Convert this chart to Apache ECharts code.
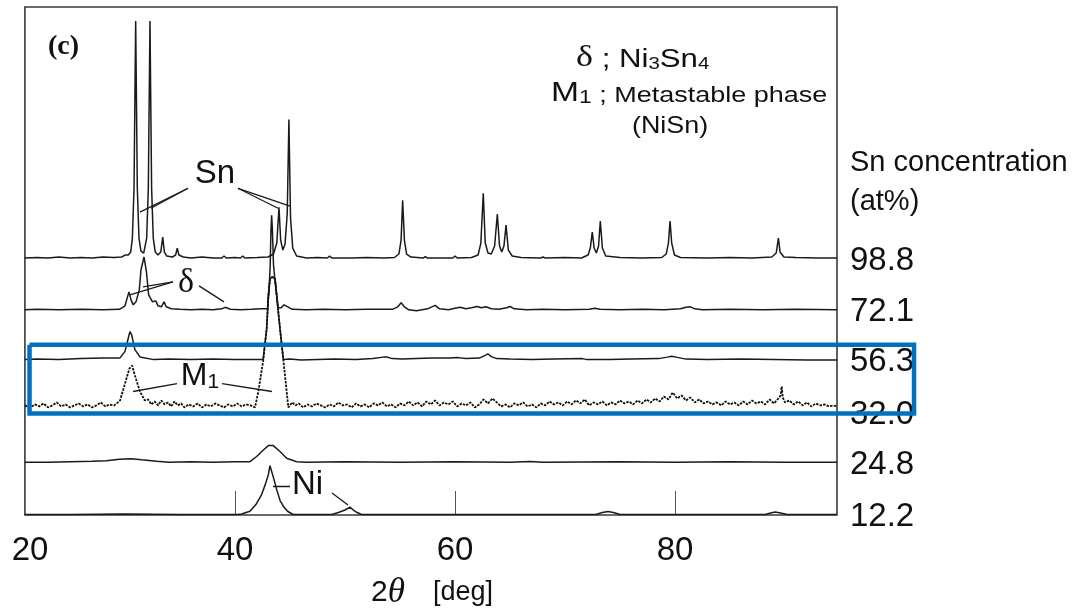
<!DOCTYPE html>
<html>
<head>
<meta charset="utf-8">
<script src="https://cdn.jsdelivr.net/npm/echarts@6/dist/echarts.min.js"></script>
<style>
html,body{margin:0;padding:0;background:#fff;}
#chart{width:1075px;height:615px;}
</style>
</head>
<body>
<div id="chart"></div>
<script>
// ---------------- data ----------------
const degTickLabels = [20, 40, 60, 80];
const innerTickDegs = [40, 60, 80];
const concLabels = ['98.8', '72.1', '56.3', '32.0', '24.8', '12.2'];
const concOffsets = [258, 206, 156, 108, 53, 0.5];

// each trace: [2theta (deg), intensity above its own baseline]
const trace98_8 = [[20.9,0],[22,0.5],[23,0],[24,1],[25,0],[26,0.5],[27,0],[28,1],[29,0.5],[29.7,1],
 [30.0,3],[30.15,5],[30.3,3],[30.52,6],[30.67,20],[30.82,70],[30.97,238],[31.12,70],[31.27,20],[31.45,7],
 [31.7,5],[31.82,7],[31.97,20],[32.12,70],[32.27,238],[32.42,70],[32.57,20],[32.75,6],[33.0,3],[33.25,6],
 [33.43,21],[33.58,6],[33.8,2],[34.3,1],[34.6,3],[34.75,10],[34.9,3],[35.3,1],[36,0],[37,1],[38,0],
 [38.8,0],[39.0,2],[39.2,0],[40,0.5],[40.5,0],[40.7,2],[40.9,0],[42,0.5],[43.0,1],[43.5,4],[43.8,15],
 [44.0,51],[44.15,18],[44.35,8],[44.55,14],[44.75,45],[44.9,139],[45.05,40],[45.25,10],[45.6,2],
 [46.5,0],[47.5,0.5],[48.4,0],[48.6,2],[48.8,0],[50.3,0],[50.45,2],[50.6,0],[52,0.5],[53.5,0],[54.5,0.5],
 [54.9,4],[55.1,18],[55.24,58],[55.4,18],[55.6,4],[56,1],[57.1,0],[57.3,1.5],[57.5,0],[59.8,0],[60,2],
 [60.2,0],[61.5,0.5],[62.1,3],[62.35,15],[62.57,65],[62.75,15],[63.0,5],[63.3,4],[63.6,12],[63.85,44],
 [64.05,12],[64.25,6],[64.45,12],[64.64,33],[64.85,8],[65.2,2],[66,0.5],[67.8,0],[68,1],[68.2,0],[70,0.5],
 [71.5,0],[72.1,3],[72.3,10],[72.48,26],[72.65,10],[72.85,5],[73.05,12],[73.21,37],[73.4,10],[73.7,2],
 [75,0.5],[77,0],[78.8,0.5],[79.2,4],[79.4,15],[79.55,37],[79.7,15],[79.95,3],[80.5,0.5],[83,0],[85,0.5],
 [87,0],[88.8,1],[89.2,5],[89.4,20],[89.55,6],[89.9,1],[91,0.5],[93,0],[94.72,0]];

const trace72_1 = [[20.9,0],[22,0.5],[24,0],[26,0.5],[28,0],[29.5,0.5],[30.0,4],[30.2,12],[30.36,18],
 [30.55,10],[30.75,5],[31.0,8],[31.3,20],[31.45,40],[31.73,53],[31.95,38],[32.15,15],[32.5,8],[32.8,9],
 [33.0,4],[33.3,3],[33.55,8],[33.75,3],[34.2,1],[35,0.5],[36,0],[37,0.5],[38,0],[38.8,1],[39.1,2.5],
 [39.6,0.5],[40.5,0],[41.5,0.5],[42.3,1],[42.95,1],[43.1,20],[43.2,45],[43.27,80],[43.33,95],[43.4,80],
 [43.5,45],[43.65,28],[43.92,2],[44.2,2],[44.45,5],[44.6,6],[44.8,3],[45.2,0.5],[46.5,0],[48,0.5],[50,0],
 [52,0.5],[54.3,0.5],[54.8,3],[55.1,7],[55.4,3],[55.8,0],[56.5,-1],[57.5,1],[58.2,4.5],[58.6,1],[59.4,0],
 [60.0,1.5],[60.45,2.5],[61.0,1],[61.5,2],[62.0,3.3],[62.4,2],[62.8,3],[63.3,1],[64.0,0.5],[64.7,2],
 [65.0,3.3],[65.4,1],[66.5,0],[68,0.5],[70,0],[72.2,0.5],[72.7,1.5],[73.2,0.5],[75,0],[77,0.5],[79,0],
 [80.5,1],[81.0,2.5],[81.4,3],[81.8,1],[82.5,0],[85,0.5],[88,0],[91,0.5],[94.72,0]];

const trace56_3 = [[20.9,0],[22,0.5],[24,0],[26,1],[28,1.5],[29.55,1.7],[30.0,8.3],[30.3,21.7],[30.45,28],
 [30.6,25],[30.9,10],[31.36,2.7],[32.6,0],[34,0.5],[36,0],[38,0.5],[40,0],[41.5,0],[42.55,0],[42.88,31],
 [43.03,64],[43.18,81],[43.4,83],[43.64,81],[44.09,31],[44.4,0],[45,0.5],[46,-0.5],[47.5,0],[49,0.5],
 [51,0],[52.5,1],[53.5,2.5],[53.8,2.7],[54.3,1],[55.2,0.5],[56.5,1],[58.0,1.5],[59.5,1.5],[60.3,2],[61,1],
 [62.2,1.5],[62.7,4],[63.0,5.7],[63.3,3],[63.8,1],[65,0.5],[67,0],[69,0.5],[71.6,1],[72,0],[74,0],
 [76,0.5],[78.5,1],[79.3,2.5],[79.7,3.3],[80.1,2.5],[81,0.5],[83,0],[86,0.5],[89,0],[92,-0.5],[94.72,-0.5]];

const trace32_0 = [[20.9,2],[21.4,0],[21.8,3],[22.2,1],[22.6,4],[23.0,0],[23.4,2],[23.8,5],[24.2,1],
 [24.6,3],[25.0,0],[25.4,2],[25.8,4],[26.2,1],[26.6,3],[27.0,0],[27.4,2],[27.8,5],[28.2,1],[28.6,3],
 [29.0,2],[29.25,4],[29.55,7],[30.0,24],[30.4,39],[30.65,42],[30.9,32],[31.36,16],[31.8,7],[32.1,8],
 [32.4,3],[32.7,6],[33.0,2],[33.3,7],[33.6,3],[33.9,5],[34.2,1],[34.5,6],[34.8,2],[35.1,4],[35.4,0],
 [35.8,3],[36.2,1],[36.6,4],[37.0,0],[37.4,3],[37.8,1],[38.2,4],[38.6,2],[39.0,0],[39.4,3],[39.8,1],
 [40.2,4],[40.6,1],[41.0,3],[41.4,2],[41.82,0],[42.12,16],[42.58,48],[42.88,79],[43.03,112],[43.18,129],
 [43.4,131],[43.64,129],[44.09,79],[44.39,48],[44.85,0],[45.2,5],[45.5,2],[45.8,4],[46.2,0],[46.6,3],
 [47.0,1],[47.4,4],[47.8,2],[48.2,0],[48.6,3],[49.0,1],[49.4,5],[49.8,2],[50.2,3],[50.6,0],[51.0,4],
 [51.4,1],[51.8,3],[52.2,0],[52.6,4],[53.0,2],[53.4,5],[53.8,1],[54.2,3],[54.6,0],[55.0,4],[55.4,2],
 [55.8,6],[56.2,2],[56.6,5],[57.0,1],[57.4,6],[57.8,3],[58.2,7],[58.6,2],[59.0,5],[59.4,3],[59.8,6],
 [60.2,1],[60.6,4],[61.0,2],[61.4,5],[61.8,0],[62.2,3],[62.6,8],[63.0,4],[63.4,9],[63.8,5],[64.2,1],
 [64.6,3],[65.0,0],[65.4,4],[65.8,2],[66.2,5],[66.6,1],[67.0,3],[67.4,0],[67.8,4],[68.2,2],[68.6,6],
 [69.0,3],[69.4,5],[69.8,2],[70.2,6],[70.6,3],[71.0,7],[71.4,4],[71.8,8],[72.2,2],[72.6,5],[73.0,3],
 [73.4,6],[73.8,2],[74.2,5],[74.6,3],[75.0,7],[75.4,4],[75.8,6],[76.2,3],[76.6,7],[77.0,4],[77.4,8],
 [77.8,5],[78.2,9],[78.6,6],[79.0,11],[79.4,8],[79.8,15],[80.2,9],[80.6,12],[81.0,7],[81.4,10],[81.8,5],
 [82.2,8],[82.6,4],[83.0,6],[83.4,3],[83.8,5],[84.2,2],[84.6,6],[85.0,3],[85.4,5],[85.8,2],[86.2,6],
 [86.6,3],[87.0,7],[87.4,4],[87.8,6],[88.2,3],[88.6,8],[89.0,4],[89.4,9],[89.6,12],[89.7,21],[89.8,10],
 [90.0,5],[90.4,7],[90.8,3],[91.2,6],[91.6,2],[92.0,5],[92.4,1],[92.8,4],[93.2,2],[93.6,3],[94.0,1],
 [94.4,2],[94.72,1]];

const trace24_8 = [[20.9,0],[23,0],[25,0.5],[27,1],[28.3,1.5],[29.5,3],[30.6,3.5],[31.5,2.5],[32.9,1],
 [34,0],[36,0.5],[38,0],[40,0.5],[41.36,0.5],[41.97,5.7],[42.58,12.3],[43.03,16.7],[43.48,16.7],
 [44.09,10.7],[44.7,4],[45.6,0.5],[46.5,0],[50,0.5],[55,0],[60,0.5],[65,0],[66.8,0.7],[68,0],[75,0.5],
 [80,0],[85,0.5],[90,0],[94.72,0]];

const trace12_2 = [[20.9,0],[25,0],[30,0.5],[35,0],[39,0],[40.2,0],[40.6,0.5],[41.36,3.3],[41.9,10],
 [42.42,20],[42.75,30],[43.03,40],[43.18,49],[43.33,47],[43.55,35],[43.79,25],[44.1,14],[44.39,8.3],
 [44.8,3],[45.3,0],[47,0],[48.8,0],[49.4,2],[50.0,4.5],[50.45,7.4],[50.7,5],[51.1,2],[51.5,0],[55,0],
 [60,0],[65,0],[70,0],[72.8,0],[73.4,2],[73.9,3],[74.4,2],[75,0],[80,0],[85,0],[88.2,0],[88.7,1.5],
 [89.1,2.5],[89.6,1.5],[90.2,0],[94.72,0]];

const traces = [trace98_8, trace72_1, trace56_3, trace32_0, trace24_8, trace12_2];

// annotations (data units: deg, intensity)
const annotLabels = [
  {name: 'Sn', value: [38.18, 342]},
  {name: 'δ',  value: [35.55, 233]},
  {name: 'M1', value: [36.82, 139]},
  {name: 'Ni', value: [46.59, 30]}
];
const pointerLines = [
  [[35.73,328],[31.36,304]], [[35.73,328],[32.36,308]],
  [[40.27,328],[43.91,308]], [[40.27,328],[45.0,310]],
  [[34.36,234],[30.45,221]], [[34.36,234],[31.64,229]],
  [[36.73,230],[39.0,214]],
  [[34.73,132],[30.73,124]], [[38.82,132],[43.36,124]],
  [[45.0,29],[43.45,29]], [[48.82,22],[50.27,10]]
];
const highlightBox = [[21.32,171],[101.73,171],[101.73,102],[21.32,102],[21.32,171]];
const frameX = [20.9, 94.727];
const frameY = [0, 510];

// ---------------- chart ----------------
const SANS = "'Liberation Sans', Arial, Helvetica, sans-serif";
const SERIF = "'Liberation Serif', 'Times New Roman', serif";
const INK = '#111111';
const chart = echarts.init(document.getElementById('chart'), null, {renderer: 'canvas'});

const lineSeries = traces.map((tr, i) => ({
  type: 'line',
  name: concLabels[i],
  data: tr.map(p => [p[0], p[1] + concOffsets[i]]),
  showSymbol: false,
  symbol: 'none',
  smooth: false,
  clip: true,
  lineStyle: i === 3
    ? {color: '#111', width: 1.8, type: [2.5, 1.2]}
    : {color: '#1a1a1a', width: 1.5},
  z: 3,
  silent: true,
  animation: false
}));

lineSeries[0].markArea = {
  silent: true,
  itemStyle: {color: 'rgba(0,0,0,0)', borderColor: '#3a3a3a', borderWidth: 1.6},
  data: [[{coord: [frameX[0], frameY[0]]}, {coord: [frameX[1], frameY[1]]}]]
};

const noStroke = {textBorderWidth: 0, textShadowBlur: 0, textBorderColor: 'transparent'};

const option = {
  backgroundColor: '#ffffff',
  animation: false,
  grid: {left: 15, right: 238, top: 7, bottom: 98, containLabel: false},
  xAxis: {
    type: 'value', min: 20, max: 94.727,
    axisLine: {show: false},
    splitLine: {show: false},
    axisTick: {show: true, inside: true, length: 24, customValues: innerTickDegs,
      lineStyle: {color: '#555', width: 1}},
    axisLabel: {
      customValues: degTickLabels, margin: 19, fontSize: 33, fontFamily: SANS, color: INK,
      formatter: v => v === 20 ? '{s|20}' : String(v),
      rich: {s: {padding: [0, 0, 0, 30], fontSize: 33, fontFamily: SANS, color: INK}}
    },
    name: '{p|}{a|2}{b|θ}{g|}{c|[deg]}',
    nameLocation: 'middle',
    nameGap: 60,
    nameTextStyle: {
      rich: {
        p: {width: 12},
        a: {fontSize: 30, fontFamily: SANS, color: INK},
        b: {fontSize: 35, fontFamily: SERIF, fontStyle: 'italic', color: INK},
        g: {width: 28},
        c: {fontSize: 27, fontFamily: SANS, color: INK}
      }
    }
  },
  yAxis: {
    type: 'value', min: 0, max: 510, position: 'right',
    axisLine: {show: false}, axisTick: {show: false}, splitLine: {show: false},
    axisLabel: {
      customValues: concOffsets, margin: 13, fontSize: 33, fontFamily: SANS, color: INK,
      formatter: v => {
        const t = concLabels[concOffsets.indexOf(v)] || '';
        return t === '32.0' ? '{b|' + t + '}' : '{a|' + t + '}';
      },
      rich: {
        a: {fontSize: 33, fontFamily: SANS, color: INK, padding: [5, 0, 0, 0]},
        b: {fontSize: 33, fontFamily: SANS, color: INK, padding: [14, 0, 0, 0]}
      }
    }
  },
  graphic: [
    {type: 'text', x: 48, y: 47, style: {text: '(c)', font: "bold 28px 'Liberation Serif'", fill: INK, verticalAlign: 'middle'}},
    {type: 'text', x: 576, y: 59, scaleX: 1.2, style: {
      text: '{d|δ}{t| ; Ni}{s|3}{t|Sn}{s|4}', verticalAlign: 'middle',
      rich: {
        d: {fontSize: 30, fontFamily: SERIF, fill: INK, verticalAlign: 'bottom', lineHeight: 28},
        t: {fontSize: 26, fontFamily: SANS, fill: INK, verticalAlign: 'bottom', lineHeight: 28},
        s: {fontSize: 17, fontFamily: SANS, fill: INK, verticalAlign: 'bottom', lineHeight: 26}
      }}},
    {type: 'text', x: 551, y: 92, scaleX: 1.2, style: {
      text: '{m|M}{o|1}{t| ; Metastable phase}', verticalAlign: 'middle',
      rich: {
        m: {fontSize: 28, fontFamily: SANS, fill: INK, verticalAlign: 'bottom', lineHeight: 30},
        o: {fontSize: 19, fontFamily: SANS, fill: INK, verticalAlign: 'bottom', lineHeight: 28},
        t: {fontSize: 22.5, fontFamily: SANS, fill: INK, verticalAlign: 'bottom', lineHeight: 29}
      }}},
    {type: 'text', x: 632, y: 126, scaleX: 1.12, style: {text: '(NiSn)', fontSize: 24, fontFamily: SANS, fill: INK, verticalAlign: 'middle'}},
    {type: 'text', x: 850, y: 163, style: {text: 'Sn concentration', fontSize: 29, fontFamily: SANS, fill: INK, verticalAlign: 'middle'}},
    {type: 'text', x: 850, y: 202, style: {text: '(at%)', fontSize: 29, fontFamily: SANS, fill: INK, verticalAlign: 'middle'}}
  ],
  series: [
    ...lineSeries,
    {
      type: 'lines', coordinateSystem: 'cartesian2d', silent: true, z: 4,
      lineStyle: {color: '#1a1a1a', width: 1.3, opacity: 1},
      data: pointerLines.map(c => ({coords: c}))
    },
    {
      type: 'scatter', symbolSize: 0, silent: true, z: 5,
      itemStyle: {color: INK, opacity: 1},
      data: annotLabels,
      label: Object.assign({
        show: true, position: 'inside', color: INK,
        formatter: p => p.name === 'M1' ? '{m|M}{o|1}' : (p.name === 'δ' ? '{d|δ}' : '{n|' + p.name + '}'),
        rich: {
          n: Object.assign({fontSize: 33, fontFamily: SANS, color: INK}, noStroke),
          d: Object.assign({fontSize: 34, fontFamily: SERIF, color: INK}, noStroke),
          m: Object.assign({fontSize: 32, fontFamily: SANS, color: INK, verticalAlign: 'bottom', lineHeight: 32}, noStroke),
          o: Object.assign({fontSize: 21, fontFamily: SANS, color: INK, verticalAlign: 'bottom', lineHeight: 30}, noStroke)
        }
      }, noStroke)
    },
    {
      type: 'lines', coordinateSystem: 'cartesian2d', polyline: true, silent: true, clip: false, z: 10,
      lineStyle: {color: '#0070C0', width: 4.5, opacity: 1, join: 'miter'},
      data: [{coords: highlightBox}]
    }
  ]
};
chart.setOption(option);
</script>
</body>
</html>
